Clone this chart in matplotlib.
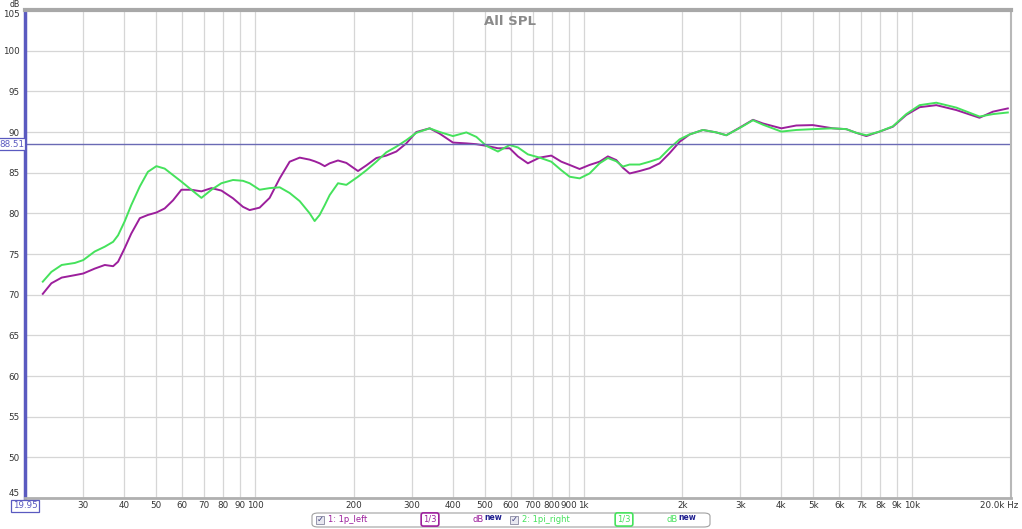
import numpy as np
import matplotlib
matplotlib.use("Agg")
import matplotlib.pyplot as plt
from matplotlib.patches import FancyBboxPatch, Rectangle

# frequencies (Hz), shared by both traces
freq = [22.6, 24.0, 25.8, 28.3, 30, 32.5, 34.9, 37.0, 38.3, 40.1, 42.0, 44.6,
        47.2, 50.1, 53.1, 56.3, 59.7, 64.0, 68.7, 73.7, 79.0, 85.7, 91.9, 96.3,
        103.3, 110.8, 118.9, 127.5, 136.8, 146.7, 151.9, 157.3, 163.0, 168.8,
        178.9, 189.7, 205.8, 218.3, 234.1, 251.0, 269.3, 288.8, 309.8, 340.1,
        364.8, 400.4, 439.9, 471.8, 506.0, 548.8, 595.7, 631.4, 677.0, 734.9,
        797.7, 855.8, 907.0, 972.9, 1043, 1119, 1186, 1258, 1318, 1381, 1481,
        1589, 1704, 1828, 1961, 2103, 2309, 2536, 2720, 3020, 3278, 3515, 4000,
        4441, 4989, 5741, 6305, 6761, 7256, 7962, 8741, 9600, 10540, 11850,
        13630, 16040, 17620, 19560]

left_db = [70.1, 71.4, 72.1, 72.4, 72.6, 73.2, 73.65, 73.5, 74.05, 75.7, 77.5,
           79.4, 79.8, 80.1, 80.6, 81.6, 82.9, 82.9, 82.7, 83.1, 82.8, 81.85,
           80.8, 80.4, 80.7, 81.9, 84.3, 86.35, 86.85, 86.6, 86.4, 86.15, 85.8,
           86.15, 86.5, 86.2, 85.2, 85.9, 86.8, 87.1, 87.6, 88.6, 90.0, 90.45,
           89.8, 88.7, 88.6, 88.5, 88.3, 88.0, 88.0, 87.0, 86.15, 86.85, 87.1,
           86.35, 85.95, 85.45, 85.95, 86.35, 87.0, 86.55, 85.6, 84.9, 85.2,
           85.55, 86.15, 87.4, 88.8, 89.7, 90.25, 89.95, 89.6, 90.65, 91.5,
           91.05, 90.45, 90.8, 90.85, 90.45, 90.35, 89.9, 89.5, 90.05, 90.65,
           92.1, 93.05, 93.3, 92.7, 91.75, 92.5, 92.9]

right_db = [71.6, 72.8, 73.65, 73.9, 74.25, 75.3, 75.9, 76.5, 77.3, 79.0, 81.0,
            83.3, 85.1, 85.8, 85.5, 84.7, 83.9, 82.9, 81.9, 82.9, 83.7, 84.1,
            84.0, 83.7, 82.9, 83.1, 83.2, 82.5, 81.5, 80.0, 79.05, 79.8, 81.0,
            82.25, 83.7, 83.5, 84.5, 85.3, 86.35, 87.5, 88.2, 89.0, 89.9, 90.45,
            90.0, 89.5, 89.95, 89.4, 88.3, 87.6, 88.4, 88.1, 87.25, 86.85,
            86.35, 85.3, 84.5, 84.3, 84.9, 86.15, 86.8, 86.4, 85.75, 86.0, 86.0,
            86.35, 86.75, 88.0, 89.1, 89.7, 90.25, 89.95, 89.6, 90.6, 91.45,
            90.9, 90.05, 90.25, 90.35, 90.45, 90.35, 89.9, 89.6, 90.05, 90.7,
            92.2, 93.3, 93.6, 93.0, 91.9, 92.2, 92.4]

xticks = [30, 40, 50, 60, 70, 80, 90, 100, 200, 300, 400, 500, 600, 700, 800,
          900, 1000, 2000, 3000, 4000, 5000, 6000, 7000, 8000, 9000, 10000]
xtick_labels = ["30", "40", "50", "60", "70", "80", "90", "100", "200", "300",
                "400", "500", "600", "700", "800", "900", "1k", "2k", "3k", "4k",
                "5k", "6k", "7k", "8k", "9k", "10k"]
yticks = list(range(45, 106, 5))
f_min, f_max = 19.95, 20000
ref_level = 88.51

purple = "#9c1f9c"
green = "#45e25c"
blue = "#5a5ac0"
W, H = 1022, 529

fig = plt.figure(figsize=(W / 100, H / 100), dpi=100)
ax = fig.add_axes([25 / W, 31 / H, 986 / W, 488 / H])

ax.semilogx(freq, left_db, color=purple, lw=1.4, solid_joinstyle="round")
ax.semilogx(freq, right_db, color=green, lw=1.4, solid_joinstyle="round")
ax.axhline(ref_level, color="#6a6ab4", lw=1.0)

ax.set_xlim(f_min, f_max)
ax.set_ylim(45, 105)
ax.set_xticks(xticks)
ax.set_xticklabels(xtick_labels)
ax.xaxis.set_minor_locator(matplotlib.ticker.NullLocator())
ax.set_yticks(yticks)
ax.tick_params(length=0, labelsize=6.3, colors="#333333")
ax.tick_params(axis="y", pad=4)
ax.tick_params(axis="x", pad=2)
ylabels = ax.get_yticklabels()
ylabels[0].set_va("bottom")      # "45" sits above the bottom edge
ylabels[-1].set_va("top")        # "105" sits under the "dB" unit
ax.grid(True, color="#d6d6d6", lw=0.9)
ax.set_axisbelow(True)

for side, c, w in [("left", blue, 2.5), ("top", "#a8a8a8", 3),
                   ("bottom", "#b0b0b0", 2), ("right", "#b8b8b8", 1.5)]:
    ax.spines[side].set_color(c)
    ax.spines[side].set_linewidth(w)

ax.text(0.492, 0.99, "All SPL", transform=ax.transAxes, ha="center", va="top",
        fontsize=9.5, fontweight="bold", color="#8a8a8a")

# value boxes and unit texts
fig.text(15 / W, 1 - 0.2 / H, "dB", fontsize=5.6, color="#333333", ha="center", va="top")
fig.text(1018 / W, 1 - 505 / H, "20.0k Hz", fontsize=6.3, color="#333333",
         ha="right", va="center")
box = dict(boxstyle="square,pad=0.15", fc="white", ec=blue, lw=0.9)
fig.text(25 / W, 1 - 506 / H, "19.95", fontsize=6.3, color=blue, ha="center",
         va="center", bbox=box)
ax.text(-0.001, ref_level, "88.51", transform=ax.get_yaxis_transform(), fontsize=6.3,
        color=blue, ha="right", va="center", bbox=box)

# legend strip
fig.patches.append(FancyBboxPatch((312 / W, 2 / H), 398 / W, 14 / H,
                                  boxstyle="round,pad=0,rounding_size=0.006",
                                  transform=fig.transFigure, fc="white",
                                  ec="#a0a0a0", lw=0.8))

def legend_item(x0, name, color):
    fig.patches.append(Rectangle((x0 / W, 5.5 / H), 8 / W, 8 / H,
                                 transform=fig.transFigure, fc="#e8e8f0",
                                 ec="#8888a0", lw=0.6))
    fig.text((x0 + 4) / W, 9.5 / H, "\u2713", fontsize=6, color="#404080",
             ha="center", va="center")
    fig.text((x0 + 12) / W, 9.5 / H, name, fontsize=6, color=color,
             va="center")
    fig.text((x0 + 114) / W, 9.5 / H, "1/3", fontsize=6, color=color,
             ha="center", va="center",
             bbox=dict(boxstyle="round,pad=0.25", fc="white", ec=color, lw=1.2))
    fig.lines.append(plt.Line2D([(x0 + 100) / W, (x0 + 128) / W], [9.5 / H, 9.5 / H],
                                transform=fig.transFigure, color=color, lw=1.2,
                                zorder=0))
    fig.text((x0 + 168) / W, 9.5 / H, "dB", fontsize=6, color=color,
             va="center", ha="right")
    fig.text((x0 + 168) / W, 11 / H, "new", fontsize=5.5, color="#202090",
             fontweight="bold", va="center", ha="left")

legend_item(316, "1: 1p_left", purple)
legend_item(510, "2: 1pi_right", green)

fig.savefig("out.png", dpi=100, facecolor="white")
